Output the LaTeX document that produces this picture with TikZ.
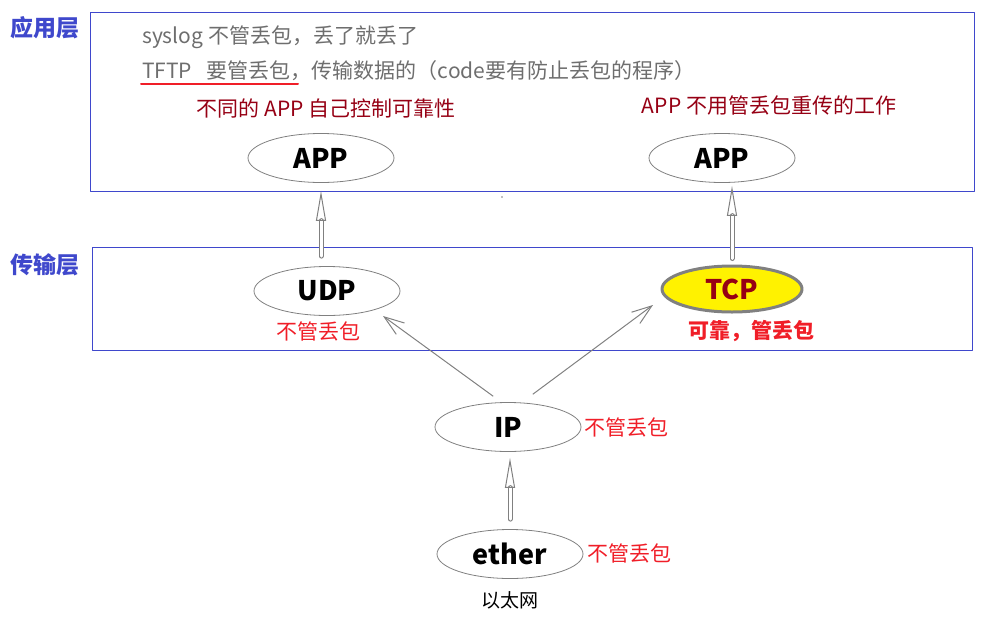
\documentclass[tikz,border=0pt]{standalone}
\usepackage{fontspec}
\setmainfont{Noto Sans CJK SC}
\usetikzlibrary{arrows.meta}
\usetikzlibrary{shapes.geometric}
\usetikzlibrary{positioning}
\definecolor{layerblue}{RGB}{63,72,204}
\definecolor{notegray}{RGB}{110,110,110}
\definecolor{darkred}{RGB}{150,0,20}
\definecolor{notered}{RGB}{240,30,40}
\definecolor{tcpyellow}{RGB}{255,242,0}

\tikzset{
  layer/.style={draw=layerblue,line width=1pt},
  layername/.style={text=layerblue,font=\fontsize{23}{27}\selectfont\bfseries},
  proto/.style={ellipse,draw=gray,line width=0.8pt,minimum width=146pt,minimum height=49pt,inner sep=0pt,font=\fontsize{27}{31}\selectfont\bfseries},
  note/.style={font=\fontsize{21}{25}\selectfont},
  liftarrow/.style={draw=gray,line width=1pt,double=white,double distance=3pt,-{Triangle[open,length=30pt,width=10pt]}},
  feedarrow/.style={draw=gray,line width=1pt,-{Straight Barb[length=20pt,width=14pt]}},
}

\begin{document}
\begin{tikzpicture}[line cap=round,line join=round,x=1pt,y=-1pt]
\useasboundingbox (0,0) rectangle (996,627);
% layers
\draw [layer] (90,12) rectangle (974,191);
\draw [layer] (92,247) rectangle (972,350);
\node [layername] (appname) at (45,28) {应用层};
\node [layername] (transname) at (45,265) {传输层};
% application layer notes
\node [note,text=notegray,anchor=west,inner sep=0pt] (syslog) at (142,37) {syslog 不管丢包，丢了就丢了};
\node [note,text=notegray,anchor=west,inner sep=0pt] (tftp) at (142,71) {TFTP\hspace{0.7em}要管丢包，传输数据的（code要有防止丢包的程序）};
\draw [notered,line width=2pt] (141,84) -- (298,84);
\node [note,text=darkred] (selfnote) at (326,108) {不同的 APP 自己控制可靠性};
\node [note,text=darkred] (tcpnote) at (769,106) {APP 不用管丢包重传的工作};
\fill [gray] (502,197) circle (0.8);
% protocols
\node [proto] (appL) at (321,158) {APP};
\node [proto] (appR) at (722,158) {APP};
\node [proto] (udp) at (327,291) {UDP};
\node [proto,fill=tcpyellow,line width=3pt,minimum width=140pt,minimum height=46pt,text=darkred] (tcp) at (732,289) {TCP};
\node [proto] (ip) at (508,427) {IP};
\node [proto] (ether) at (510,554) {ether};
% protocol notes
\node [note,text=notered] (udpnote) at (318,331) {不管丢包};
\node [note,text=notered,font=\fontsize{21}{25}\selectfont\bfseries] (tcpgood) at (751,331) {可靠，管丢包};
\node [note,text=notered,anchor=west,inner sep=0pt] (ipnote) at (584,427) {不管丢包};
\node [note,text=notered,anchor=west,inner sep=0pt] (ethernote) at (587,553) {不管丢包};
\node [note,font=\fontsize{19}{22}\selectfont] (ethname) at (510,600) {以太网};
% arrows
\draw [liftarrow,shorten <=10pt,shorten >=8pt] (appL.south |- udp.north) -- (appL.south);
\draw [liftarrow,shorten <=6pt,shorten >=3pt] (tcp.north) -- (tcp.north |- appR.south);
\draw [liftarrow,shorten <=10pt,shorten >=6pt] (ether.north) -- (ether.north |- ip.south);
\draw [feedarrow] ([xshift=-15pt,yshift=6pt]ip.north) -- ([xshift=56pt,yshift=-25pt]udp.center);
\draw [feedarrow] ([xshift=25pt,yshift=8pt]ip.north) -- ([xshift=-79pt,yshift=-16pt]tcp.center);
\end{tikzpicture}
\end{document}
